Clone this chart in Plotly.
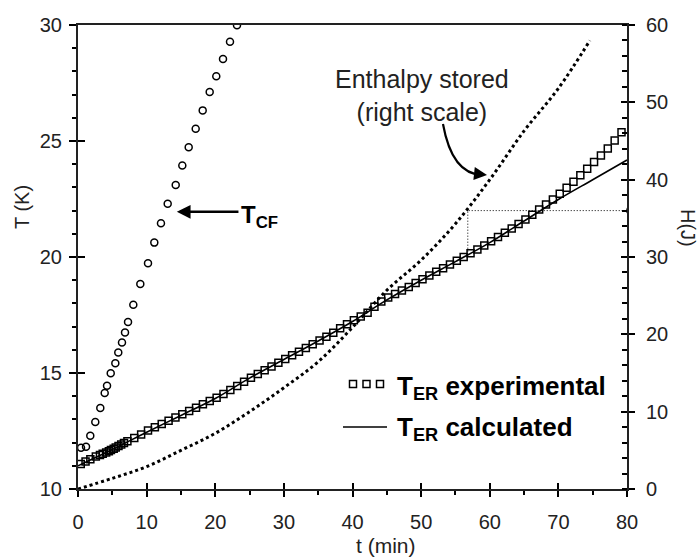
import plotly.graph_objects as go

# ---------------- data ----------------
t_cf = [0.44, 1.17, 1.79, 2.52, 3.25, 3.89, 4.23, 4.77, 5.44, 5.87, 6.41, 6.85, 7.29, 8.06,
        9.08, 10.20, 11.12, 12.09, 13.07, 14.24, 15.20, 16.13, 17.15, 18.17, 19.19, 20.15,
        21.13, 22.15, 23.17]
T_cf = [11.78, 11.82, 12.30, 12.89, 13.49, 14.14, 14.45, 14.99, 15.42, 15.88, 16.31, 16.75,
        17.20, 17.94, 18.84, 19.73, 20.62, 21.45, 22.30, 23.10, 23.94, 24.73, 25.53, 26.32,
        27.11, 27.79, 28.53, 29.28, 29.99]

t_exp = [0.4, 1.1, 1.8, 2.6, 3.2, 3.6, 4.1, 4.5, 4.8, 5.2, 5.5, 5.9, 6.3, 6.7, 7.2, 8.2, 9.2,
         10.2, 11.2, 12.2, 13.2, 14.2, 15.2, 16.2, 17.2, 18.2, 19.2, 20.2, 21.2, 22.2, 23.2,
         24.2, 25.2, 26.2, 27.2, 28.2, 29.2, 30.2, 31.2, 32.2, 33.2, 34.2, 35.2, 36.2, 37.2,
         38.2, 39.2, 40.2, 41.2, 42.2, 43.2, 44.2, 45.2, 46.2, 47.2, 48.2, 49.2, 50.2, 51.2,
         52.2, 53.2, 54.2, 55.2, 56.2, 57.2, 58.2, 59.2, 60.2, 61.2, 62.2, 63.2, 64.2, 65.2,
         66.2, 67.2, 68.2, 69.2, 70.2, 71.2, 72.2, 73.2, 74.2, 75.2, 76.2, 77.2, 78.2, 79.2]
T_exp = [11.08, 11.18, 11.28, 11.40, 11.47, 11.52, 11.57, 11.63, 11.68, 11.74, 11.79, 11.85,
         11.92, 11.98, 12.06, 12.20, 12.35, 12.52, 12.66, 12.80, 12.94, 13.08, 13.22, 13.36,
         13.50, 13.65, 13.79, 13.93, 14.10, 14.27, 14.44, 14.62, 14.80, 14.96, 15.12, 15.28,
         15.44, 15.60, 15.76, 15.92, 16.08, 16.24, 16.40, 16.56, 16.74, 16.93, 17.10, 17.27,
         17.43, 17.60, 17.86, 18.08, 18.25, 18.40, 18.56, 18.71, 18.88, 19.04, 19.20, 19.36,
         19.52, 19.68, 19.84, 20.00, 20.16, 20.32, 20.50, 20.68, 20.86, 21.04, 21.23, 21.42,
         21.62, 21.82, 22.05, 22.26, 22.48, 22.73, 22.98, 23.24, 23.52, 23.80, 24.09, 24.38,
         24.68, 25.02, 25.38]

t_calc = [0, 5, 10, 15, 20, 25, 30, 35, 40, 45, 50, 55, 60, 65, 70, 75, 80]
T_calc = [11.0, 11.7, 12.45, 13.17, 13.9, 14.78, 15.58, 16.38, 17.22, 18.15, 19.0, 19.8,
          20.62, 21.55, 22.48, 23.33, 24.18]

t_H = [0, 5, 10, 15, 20, 25, 30, 35, 40, 45, 50, 55, 60, 65, 70, 74.6]
H = [0, 1.38, 2.89, 5.0, 7.2, 10.0, 13.1, 16.45, 20.9, 25.7, 29.6, 34.3, 40.0, 46.3, 51.8, 58.0]

# reading guide (dotted) at t = 56.8 min, H = 36 J
guide_t = [56.8, 56.8, 80]
guide_H = [30.3, 36.0, 36.0]

x_ticks = [0, 10, 20, 30, 40, 50, 60, 70, 80]
T_ticks = [10, 15, 20, 25, 30]
H_ticks = [0, 10, 20, 30, 40, 50, 60]

FONT = "Liberation Sans, Arial, sans-serif"
BLACK = "#000000"
GREY = "#222222"

# plot area in pixels
L, R, TOP, BOT = 78, 627, 25, 489
W, Hh = 699, 558


def px(x):
    return (x - L) / (R - L)


def py(y):
    return (BOT - y) / (BOT - TOP)


fig = go.Figure()

fig.add_trace(go.Scatter(x=t_H, y=H, yaxis="y2", mode="lines", line_shape="spline",
                         line=dict(color=BLACK, width=3, dash="dot"), showlegend=False,
                         hoverinfo="skip"))
fig.add_trace(go.Scatter(x=guide_t, y=guide_H, yaxis="y2", mode="lines+markers",
                         line=dict(color=BLACK, width=1, dash="1px,2px"),
                         marker=dict(symbol="triangle-right", size=[0, 0, 6], color=BLACK),
                         showlegend=False, hoverinfo="skip"))
fig.add_trace(go.Scatter(x=t_calc, y=T_calc, mode="lines", line_shape="spline",
                         line=dict(color=BLACK, width=1.6), name="T_ER calculated",
                         showlegend=False))
fig.add_trace(go.Scatter(x=t_exp, y=T_exp, mode="markers",
                         marker=dict(symbol="square-open", size=7, color=BLACK,
                                     line=dict(width=1.5, color=BLACK)),
                         name="T_ER experimental", showlegend=False))
fig.add_trace(go.Scatter(x=t_cf, y=T_cf, mode="markers",
                         marker=dict(symbol="circle-open", size=7, color=BLACK,
                                     line=dict(width=1.5, color=BLACK)),
                         name="T_CF", showlegend=False))

# helper traces so that the inside halves of the crossing major ticks are drawn
fig.add_trace(go.Scatter(x=[None], y=[None], xaxis="x2", yaxis="y3", showlegend=False,
                         hoverinfo="skip"))
fig.add_trace(go.Scatter(x=[None], y=[None], xaxis="x", yaxis="y4", showlegend=False,
                         hoverinfo="skip"))

tickfont = dict(family=FONT, size=20, color=GREY)

fig.update_layout(
    width=W, height=Hh,
    margin=dict(l=L, r=W - R, t=TOP, b=Hh - BOT),
    paper_bgcolor="white", plot_bgcolor="white",
    font=dict(family=FONT, color=BLACK),
    xaxis=dict(range=[0, 80], tickvals=x_ticks, ticks="outside", ticklen=6, tickwidth=1.5,
               tickcolor=BLACK, showline=True, linecolor=GREY, linewidth=2, mirror=True,
               showgrid=False, zeroline=False, tickfont=tickfont, ticklabelstandoff=8,
               minor=dict(dtick=5, ticks="outside", ticklen=4, tickwidth=1.5,
                          tickcolor=BLACK, showgrid=False)),
    xaxis2=dict(range=[0, 80], overlaying="x", anchor="y", side="bottom", tickvals=x_ticks,
                ticks="inside", ticklen=6, tickwidth=1.5, tickcolor=BLACK,
                showticklabels=False, showline=False, showgrid=False, zeroline=False),
    yaxis=dict(range=[10, 30], tickvals=T_ticks, ticks="outside", ticklen=7, tickwidth=1.5,
               tickcolor=BLACK, showline=True, linecolor=GREY, linewidth=2,
               showgrid=False, zeroline=False, tickfont=tickfont, ticklabelstandoff=3,
               minor=dict(dtick=1, ticks="outside", ticklen=4, tickwidth=1.5,
                          tickcolor=BLACK, showgrid=False)),
    yaxis3=dict(range=[10, 30], overlaying="y", anchor="x2", side="left", tickvals=T_ticks,
                ticks="inside", ticklen=7, tickwidth=1.5, tickcolor=BLACK,
                showticklabels=False, showline=False, showgrid=False, zeroline=False),
    yaxis2=dict(range=[0, 60], overlaying="y", anchor="x", side="right", tickvals=H_ticks,
                ticks="outside", ticklen=6, tickwidth=1.5, tickcolor=BLACK,
                showline=True, linecolor=GREY, linewidth=2, showgrid=False,
                zeroline=False, tickfont=tickfont, ticklabelstandoff=7,
                minor=dict(dtick=2, ticks="inside", ticklen=5, tickwidth=1.5,
                           tickcolor=BLACK, showgrid=False)),
    yaxis4=dict(range=[0, 60], overlaying="y", anchor="x", side="right", tickvals=H_ticks,
                ticks="inside", ticklen=6, tickwidth=1.5, tickcolor=BLACK,
                showticklabels=False, showline=False, showgrid=False, zeroline=False),
    showlegend=False,
)


def text_ann(text, x, y, size, bold=False, angle=0, xanchor="center", color=GREY):
    return dict(text=text, x=px(x), y=py(y), xref="paper", yref="paper", showarrow=False,
                textangle=angle, xanchor=xanchor, yanchor="middle",
                font=dict(family=FONT, size=size, color=color))


ann = []
# axis titles
ann.append(text_ann("T (K)", 22, 207, 20, angle=-90))
ann.append(text_ann("H(J)", 688, 228, 20, angle=90))
ann.append(text_ann("t (min)", 386, 545, 21))
# enthalpy label
ann.append(text_ann("Enthalpy stored<br>(right scale)", 422, 95, 25))
ann.append(dict(text="", x=px(487), y=py(175), xref="paper", yref="paper", showarrow=True,
                ax=-9, ay=-1, arrowhead=2, arrowsize=1.3, arrowwidth=2, arrowcolor=BLACK))
# T_CF arrow and label
ann.append(dict(text="", x=14.4, y=21.95, xref="x", yref="y", ax=23.6, ay=21.95,
                axref="x", ayref="y", showarrow=True, arrowhead=2, arrowsize=1.1,
                arrowwidth=2.5, arrowcolor=BLACK))
ann.append(text_ann("<b>T<sub>CF</sub></b>", 239, 216, 24, xanchor="left", color=BLACK))
# legend texts
ann.append(text_ann("<b>T<sub>ER</sub> experimental</b>", 395, 387, 26, xanchor="left",
                    color=BLACK))
ann.append(text_ann("<b>T<sub>ER</sub> calculated</b>", 395, 428, 26, xanchor="left",
                    color=BLACK))
fig.update_layout(annotations=ann)

shapes = []
# curved arrow from enthalpy label
p0 = (443, 124)
p1 = (452, 174)
p2 = (482, 175)
path = "M {:.4f},{:.4f} Q {:.4f},{:.4f} {:.4f},{:.4f}".format(
    px(p0[0]), py(p0[1]), px(p1[0]), py(p1[1]), px(p2[0]), py(p2[1]))
shapes.append(dict(type="path", path=path, xref="paper", yref="paper",
                   line=dict(color=BLACK, width=2.2)))
# legend swatches
for cx in (353, 366.5, 380):
    shapes.append(dict(type="rect", xref="paper", yref="paper",
                       x0=px(cx - 3.5), x1=px(cx + 3.5), y0=py(384 + 3.5), y1=py(384 - 3.5),
                       line=dict(color=BLACK, width=1.5)))
shapes.append(dict(type="line", xref="paper", yref="paper", x0=px(343), x1=px(387),
                   y0=py(427), y1=py(427), line=dict(color=BLACK, width=1.6)))
fig.update_layout(shapes=shapes)

fig.write_html("out.html", config={"displayModeBar": False},
               post_script="document.body.style.margin='0';document.body.style.overflow='hidden';")
